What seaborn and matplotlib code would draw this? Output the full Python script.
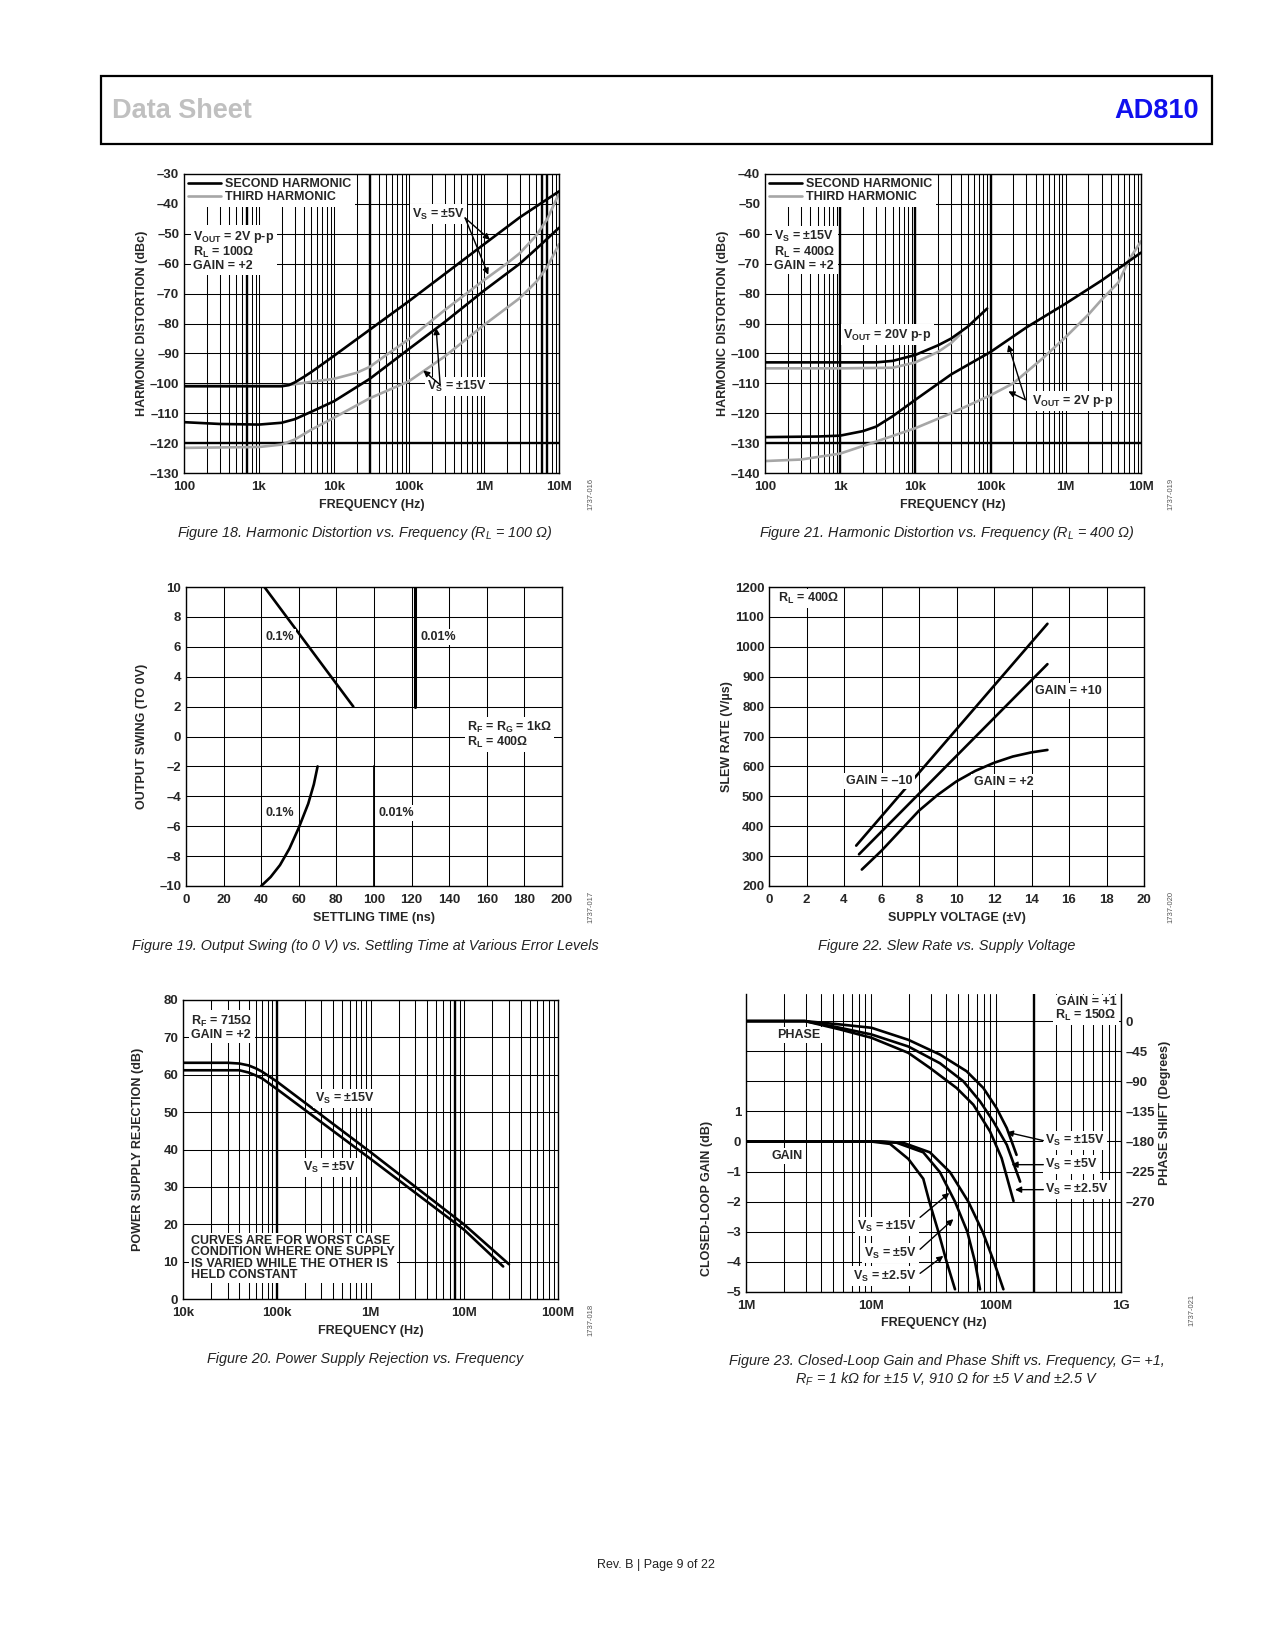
import numpy as np
import matplotlib
matplotlib.use("Agg")
import matplotlib.pyplot as plt
from matplotlib.lines import Line2D
from matplotlib.patches import Rectangle
from matplotlib.ticker import LogLocator, NullFormatter
import seaborn as sns

# ---------------- values ----------------

# Figure 18: harmonic distortion vs frequency, RL = 100 ohm (dBc)
f18_h2_5v = [100, 1e3, 2e3, 2.5e3, 3e3, 4e3, 5e3, 7e3, 1e4, 1e5, 1e6, 3e6, 1e7]
d18_h2_5v = [-101, -101, -101, -100.6, -99.7, -97.8, -96.2, -93.6, -90.8, -72.5, -53.5, -44.5, -35.8]
f18_h3_5v = [100, 2e3, 3e3, 5e3, 1e4, 2e4, 3e4, 5e4, 1e5, 3e5, 1e6, 2e6, 3e6, 5e6, 7e6, 1e7]
d18_h3_5v = [-100.8, -100.8, -100.3, -99.5, -98.5, -96.5, -94.5, -90.5, -85.2, -75.5, -65.5, -60, -56.5, -50.5, -45, -36.5]
f18_h2_15v = [100, 300, 1e3, 2e3, 3e3, 5e3, 1e4, 3e4, 1e5, 3e5, 1e6, 3e6, 5e6, 1e7]
d18_h2_15v = [-113, -113.6, -113.8, -113.2, -112, -109.5, -106, -98.5, -88.5, -79.5, -69, -60, -55, -48]
f18_h3_15v = [100, 1e3, 2e3, 3e3, 5e3, 1e4, 3e4, 1e5, 3e5, 1e6, 3e6, 5e6, 7e6, 1e7]
d18_h3_15v = [-121.6, -121.3, -120.5, -118.8, -115.5, -111.5, -105, -99.3, -91, -80.5, -71.5, -66, -61, -53.5]

# Figure 21: harmonic distortion vs frequency, RL = 400 ohm (dBc)
f21_h2_20v = [100, 1e3, 3e3, 5e3, 1e4, 2e4, 3e4, 5e4, 9e4]
d21_h2_20v = [-103, -103, -103, -102.5, -100.5, -97.3, -95, -91, -85]
f21_h3_20v = [100, 1e3, 5e3, 1e4, 2e4, 3e4, 4e4]
d21_h3_20v = [-105, -105, -104.8, -103, -99.5, -96.5, -93.5]
f21_h2_2v = [100, 500, 1e3, 2e3, 3e3, 5e3, 1e4, 3e4, 1e5, 3e5, 1e6, 3e6, 1e7]
d21_h2_2v = [-128, -127.8, -127.5, -126, -124.5, -121, -115.5, -107, -99.5, -91.3, -83.3, -75.6, -66.3]
f21_h3_2v = [100, 300, 1e3, 3e3, 1e4, 3e4, 1e5, 2e5, 5e5, 1e6, 2e6, 3e6, 5e6, 7e6, 1e7]
d21_h3_2v = [-136, -135.5, -133.5, -129.5, -125, -120, -114, -110, -101.5, -94.5, -87, -82, -76.3, -68.5, -62.5]

# Figure 19: output swing vs settling time
t19_01_top = [41.7, 89]
v19_01_top = [10, 2]
t19_01_bot = [40, 45, 50, 55, 60, 65, 68, 70]
v19_01_bot = [-10, -9.4, -8.6, -7.5, -6.1, -4.5, -3.2, -2]
t19_001_top = [122, 122]
v19_001_top = [2, 10]
t19_001_bot = [100, 100]
v19_001_bot = [-2, -10]

# Figure 22: slew rate vs supply voltage (V/us)
vs22_a = [4.65, 14.85]
sr22_a = [335, 1077]
vs22_b = [4.8, 14.85]
sr22_b = [306, 942]
vs22_c = [4.95, 6, 7, 8, 9, 10, 11, 12, 13, 14, 14.85]
sr22_c = [255, 318, 385, 452, 505, 550, 585, 612, 633, 647, 655]

# Figure 20: power supply rejection vs frequency (dB)
f20_15v = [1e4, 3e4, 4e4, 5e4, 6e4, 7e4, 1e5, 1e6, 1e7, 3e7]
p20_15v = [63.2, 63.2, 63, 62.5, 61.7, 60.8, 58.2, 39.3, 19.9, 9.3]
f20_5v = [1e4, 4e4, 5e4, 6e4, 7e4, 1e5, 1e6, 1e7, 2.6e7]
p20_5v = [61.2, 61.2, 60.6, 59.8, 59, 56.2, 37.5, 18.5, 8.7]

# Figure 23: closed-loop gain (dB) and phase (deg) vs frequency
f23_g15 = [1e6, 12e6, 18e6, 29.6e6, 42.9e6, 60.1e6, 78.2e6, 96.4e6, 114.6e6]
g23_g15 = [0, 0, -0.04, -0.36, -1.02, -2, -3, -4, -4.91]
f23_g5 = [1e6, 11e6, 16e6, 26.2e6, 35.6e6, 47e6, 59e6, 67.9e6, 74.5e6]
g23_g5 = [0, 0, -0.04, -0.36, -1.02, -2, -3, -4, -4.91]
f23_g25 = [1e6, 10e6, 14.2e6, 19.9e6, 26.2e6, 29.3e6, 34.6e6, 40.3e6, 47e6]
g23_g25 = [0, 0, -0.08, -0.58, -1.24, -2, -3, -4, -4.91]
f23_p15 = [1e6, 2.96e6, 5.65e6, 10.1e6, 19.9e6, 35.6e6, 58.2e6, 79.2e6, 101e6, 122e6, 146e6]
p23_p15 = [0, 0, -5, -10, -28, -50, -75, -100, -130, -160, -200]
f23_p5 = [1e6, 2.96e6, 5.65e6, 10.1e6, 19.9e6, 35.6e6, 54.8e6, 74.5e6, 95.2e6, 122e6, 156e6]
p23_p5 = [0, 0, -10, -20, -38, -63, -90, -120, -150, -185, -240]
f23_p25 = [1e6, 2.96e6, 5.65e6, 10.1e6, 19.9e6, 29.6e6, 48.4e6, 65.9e6, 89.6e6, 111e6, 138e6]
p23_p25 = [0, 0, -12.5, -25, -47.5, -70, -100, -125, -165, -205, -269]

# ---------------- drawing ----------------

sns.set_theme(style="white")
plt.rcParams["font.family"] = ["Liberation Sans", "DejaVu Sans"]
plt.rcParams["mathtext.default"] = "regular"

W, H = 1275, 1650
GRAY = "#a6a6a6"
LW = 1.9
TICK = 9.5
NARROW = ["Liberation Sans Narrow", "Liberation Sans", "DejaVu Sans"]
BOX = dict(facecolor="white", edgecolor="none", pad=1.5)

fig = plt.figure(figsize=(W / 100, H / 100), dpi=100)


def page_axes(x0, y0, x1, y1):
    return fig.add_axes([x0 / W, 1 - y1 / H, (x1 - x0) / W, (y1 - y0) / H])


def dash(v):
    return str(v).replace("-", "\u2013")


def curve(ax, x, y, color="black", lw=LW, z=3):
    sns.lineplot(x=x, y=y, ax=ax, color=color, linewidth=lw,
                 estimator=None, sort=False, legend=False, zorder=z)


def style(ax, xlim, ylim, xt, xl, yt, yl, xlabel, ylabel, logx=False):
    if logx:
        ax.set_xscale("log")
        ax.xaxis.set_minor_locator(LogLocator(base=10, subs=np.arange(2, 10), numticks=60))
        ax.xaxis.set_minor_formatter(NullFormatter())
    ax.set_xlim(*xlim)
    ax.set_ylim(*ylim)
    ax.set_xticks(xt, labels=xl, fontsize=TICK, fontweight="bold")
    ax.set_yticks(yt, labels=yl, fontsize=TICK, fontweight="bold")
    ax.grid(True, which="both", color="black", linewidth=0.75)
    ax.set_axisbelow(True)
    ax.tick_params(which="both", length=0)
    ax.tick_params(axis="x", pad=6)
    ax.tick_params(axis="y", pad=3.5)
    for s in ax.spines.values():
        s.set_color("black")
        s.set_linewidth(1.0)
        s.set_zorder(6)
    ax.set_xlabel(xlabel, fontsize=9, fontweight="bold")
    ax.set_ylabel(ylabel, fontsize=9, fontweight="bold")
    ax.xaxis.set_label_coords(0.5, -0.087)
    ax.yaxis.set_label_coords(-0.097, 0.5)


def note(ax, x, y, s, ha="left", va="center", box=True, **kw):
    ax.text(x, y, s, ha=ha, va=va, fontsize=9, fontweight="bold",
            bbox=BOX if box else None, zorder=4, **kw)


def arrow(ax, tail, head):
    ax.annotate("", xy=head, xytext=tail, zorder=7,
                arrowprops=dict(arrowstyle="-|>", color="black", lw=1.0,
                                mutation_scale=9, shrinkA=0, shrinkB=0))


def thick(ax, xs=(), ys=()):
    for x in xs:
        ax.axvline(x, color="black", linewidth=1.7, zorder=0.6)
    for y in ys:
        ax.axhline(y, color="black", linewidth=1.7, zorder=0.6)


freq_ticks = [1e2, 1e3, 1e4, 1e5, 1e6, 1e7]
freq_labels = ["100", "1k", "10k", "100k", "1M", "10M"]
legend_handles = [Line2D([], [], color="black", lw=LW, label="SECOND HARMONIC"),
                  Line2D([], [], color=GRAY, lw=LW, label="THIRD HARMONIC")]


def hd_legend(ax):
    leg = ax.legend(handles=legend_handles, loc="upper left", bbox_to_anchor=(0.0, 1.0),
                    borderaxespad=0.0, borderpad=0.35, handlelength=2.6, handletextpad=0.3,
                    labelspacing=0.05, frameon=True, fancybox=False,
                    prop=dict(size=9, weight="bold"))
    leg.get_frame().set_edgecolor("none")
    leg.get_frame().set_alpha(1)
    leg.set_zorder(5)


# ---- Figure 18 ----
ax = page_axes(184, 174, 559, 473)
style(ax, (100, 1e7), (-130, -30), freq_ticks, freq_labels,
      list(range(-130, -29, 10)), [dash(v) for v in range(-130, -29, 10)],
      "FREQUENCY (Hz)", "HARMONIC DISTORTION (dBc)", logx=True)
thick(ax, xs=[700, 3e4, 6e6, 7e6], ys=[-120])
curve(ax, f18_h3_5v, d18_h3_5v, GRAY)
curve(ax, f18_h3_15v, d18_h3_15v, GRAY)
curve(ax, f18_h2_5v, d18_h2_5v)
curve(ax, f18_h2_15v, d18_h2_15v)
hd_legend(ax)
note(ax, 0.025, 0.815, "V$_{OUT}$ = 2V p-p\nR$_L$ = 100Ω\nGAIN = +2",
     va="top", transform=ax.transAxes, linespacing=1.0)
note(ax, 2.45e5, -43.4, "V$_S$ = ±5V", ha="center")
arrow(ax, (5.6e5, -44.7), (1.2e6, -52))
arrow(ax, (5.6e5, -44.7), (1.14e6, -63.7))
note(ax, 4.4e5, -101, "V$_S$ = ±15V", ha="center")
arrow(ax, (2.6e5, -100.5), (2.3e5, -81.5))
arrow(ax, (2.6e5, -100.5), (1.55e5, -95.7))

# ---- Figure 21 ----
ax = page_axes(765, 174, 1141, 473)
style(ax, (100, 1e7), (-140, -40), freq_ticks, freq_labels,
      list(range(-140, -39, 10)), [dash(v) for v in range(-140, -39, 10)],
      "FREQUENCY (Hz)", "HARMONIC DISTORTION (dBc)", logx=True)
ax.yaxis.set_label_coords(-0.095, 0.5)
thick(ax, xs=[1e3, 1e4, 1e5], ys=[-130])
curve(ax, f21_h3_20v, d21_h3_20v, GRAY)
curve(ax, f21_h3_2v, d21_h3_2v, GRAY)
curve(ax, f21_h2_20v, d21_h2_20v)
curve(ax, f21_h2_2v, d21_h2_2v)
hd_legend(ax)
note(ax, 0.025, 0.815, "V$_S$ = ±15V\nR$_L$ = 400Ω\nGAIN = +2",
     va="top", transform=ax.transAxes, linespacing=1.0)
note(ax, 1.1e3, -93.7, "V$_{OUT}$ = 20V p-p")
note(ax, 3.6e5, -116, "V$_{OUT}$ = 2V p-p")
arrow(ax, (2.9e5, -115.5), (1.72e5, -97.1))
arrow(ax, (2.9e5, -115.5), (1.72e5, -112.7))

# ---- Figure 19 ----
ax = page_axes(186, 587, 562, 886)
style(ax, (0, 200), (-10, 10), list(range(0, 201, 20)), [str(v) for v in range(0, 201, 20)],
      list(range(-10, 11, 2)), [dash(v) for v in range(-10, 11, 2)],
      "SETTLING TIME (ns)", "OUTPUT SWING (TO 0V)")
ax.yaxis.set_label_coords(-0.102, 0.5)
curve(ax, t19_01_top, v19_01_top)
curve(ax, t19_01_bot, v19_01_bot)
curve(ax, t19_001_top, v19_001_top, lw=2.2)
curve(ax, t19_001_bot, v19_001_bot, lw=1.3)
note(ax, 50, 6.66, "0.1%", ha="center")
note(ax, 134, 6.66, "0.01%", ha="center")
note(ax, 50, -5.14, "0.1%", ha="center")
note(ax, 112, -5.14, "0.01%", ha="center")
note(ax, 149.4, 0.13, "R$_F$ = R$_G$ = 1kΩ\nR$_L$ = 400Ω", linespacing=1.0)

# ---- Figure 22 ----
ax = page_axes(769, 587, 1144, 886)
style(ax, (0, 20), (200, 1200), list(range(0, 21, 2)), [str(v) for v in range(0, 21, 2)],
      list(range(200, 1201, 100)), [str(v) for v in range(200, 1201, 100)],
      "SUPPLY VOLTAGE (±V)", "SLEW RATE (V/µs)")
curve(ax, vs22_a, sr22_a)
curve(ax, vs22_b, sr22_b)
curve(ax, vs22_c, sr22_c)
note(ax, 0.5, 1161, "R$_L$ = 400Ω")
note(ax, 5.9, 552, "GAIN = \u201310", ha="center")
note(ax, 15.95, 853, "GAIN = +10", ha="center")
note(ax, 12.5, 549, "GAIN = +2", ha="center")

# ---- Figure 20 ----
ax = page_axes(183, 1000, 558, 1299)
style(ax, (1e4, 1e8), (0, 80), [1e4, 1e5, 1e6, 1e7, 1e8], ["10k", "100k", "1M", "10M", "100M"],
      list(range(0, 81, 10)), [str(v) for v in range(0, 81, 10)],
      "FREQUENCY (Hz)", "POWER SUPPLY REJECTION (dB)", logx=True)
ax.yaxis.set_label_coords(-0.103, 0.5)
thick(ax, xs=[1e5, 8e6])
curve(ax, f20_15v, p20_15v)
curve(ax, f20_5v, p20_5v)
note(ax, 0.022, 0.955, "R$_F$ = 715Ω\nGAIN = +2", va="top", transform=ax.transAxes, linespacing=1.0)
note(ax, 2.54e5, 53.7, "V$_S$ = ±15V")
note(ax, 1.9e5, 35.2, "V$_S$ = ±5V")
note(ax, 0.022, 0.215, "CURVES ARE FOR WORST CASE\nCONDITION WHERE ONE SUPPLY\n"
     "IS VARIED WHILE THE OTHER IS\nHELD CONSTANT", va="top", transform=ax.transAxes,
     linespacing=0.95)

# ---- Figure 23 ----
ax = page_axes(746, 994, 1121, 1292)
style(ax, (1e6, 1e9), (-5, 4.9), [1e6, 1e7, 1e8, 1e9], ["1M", "10M", "100M", "1G"],
      list(range(-5, 5)), [dash(v) if v <= 1 else "" for v in range(-5, 5)],
      "FREQUENCY (Hz)", "CLOSED-LOOP GAIN (dB)", logx=True)
ax.spines["top"].set_visible(False)
ax.xaxis.set_label_coords(0.5, -0.084)
ax.yaxis.set_label_coords(-0.089, 0.315)
thick(ax, xs=[2e8])
curve(ax, f23_g15, g23_g15)
curve(ax, f23_g5, g23_g5)
curve(ax, f23_g25, g23_g25)
note(ax, 0.9885, 0.947, "GAIN = +1\nR$_L$ = 150Ω", ha="right", transform=ax.transAxes, linespacing=1.0)
note(ax, 1.78e6, 3.53, "PHASE")
note(ax, 1.6e6, -0.49, "GAIN")
note(ax, 2.47e8, 0.03, "V$_S$ = ±15V")
note(ax, 2.47e8, -0.77, "V$_S$ = ±5V")
note(ax, 2.47e8, -1.6, "V$_S$ = ±2.5V")
arrow(ax, (2.39e8, 0.03), (1.22e8, 0.31))
arrow(ax, (2.39e8, -0.77), (1.33e8, -0.77))
arrow(ax, (2.39e8, -1.6), (1.42e8, -1.6))
note(ax, 2.32e7, -2.82, "V$_S$ = ±15V", ha="right")
note(ax, 2.32e7, -3.71, "V$_S$ = ±5V", ha="right")
note(ax, 2.32e7, -4.47, "V$_S$ = ±2.5V", ha="right")
arrow(ax, (2.47e7, -2.52), (4.23e7, -1.71))
arrow(ax, (2.47e7, -3.58), (4.56e7, -2.58))
arrow(ax, (2.47e7, -4.38), (3.79e7, -3.8))

ax2 = ax.twinx()
ax2.set_ylim(-405, 40.5)
ax2.set_yticks(list(range(-270, 1, 45)), labels=[dash(v) for v in range(-270, 1, 45)],
               fontsize=TICK, fontweight="bold")
ax2.tick_params(length=0, pad=3)
ax2.grid(False)
for s in ax2.spines.values():
    s.set_visible(False)
curve(ax2, f23_p15, p23_p15)
curve(ax2, f23_p5, p23_p5)
curve(ax2, f23_p25, p23_p25)
ax2.set_ylabel("PHASE SHIFT (Degrees)", fontsize=9, fontweight="bold")
ax2.yaxis.set_label_coords(1.101, 0.60)

# ---------------- page furniture ----------------


def page_text(x, y, s, **kw):
    fig.text(x / W, 1 - y / H, s, **kw)


fig.add_artist(Rectangle((101 / W, 1 - 144 / H), (1212 - 101) / W, (144 - 75.7) / H,
                         transform=fig.transFigure, fill=False, edgecolor="black", linewidth=1.6))
page_text(112, 111, "Data Sheet", family=NARROW, fontsize=19.5, fontweight="bold",
          color="#c0c0c0", ha="left", va="center")
page_text(1199, 111, "AD810", family=NARROW, fontsize=19.5, fontweight="bold",
          color="#1010ee", ha="right", va="center")

cap = dict(family=NARROW, fontsize=10.4, style="italic", ha="center", va="center", color="#222222")
page_text(365, 533, "Figure 18. Harmonic Distortion vs. Frequency (R$_L$ = 100 Ω)", **cap)
page_text(947, 533, "Figure 21. Harmonic Distortion vs. Frequency (R$_L$ = 400 Ω)", **cap)
page_text(365, 946, "Figure 19. Output Swing (to 0 V) vs. Settling Time at Various Error Levels", **cap)
page_text(947, 946, "Figure 22. Slew Rate vs. Supply Voltage", **cap)
page_text(365, 1359, "Figure 20. Power Supply Rejection vs. Frequency", **cap)
page_text(947, 1361, "Figure 23. Closed-Loop Gain and Phase Shift vs. Frequency, G= +1,", **cap)
page_text(947, 1379, "R$_F$ = 1 kΩ for ±15 V, 910 Ω for ±5 V and ±2.5 V", **cap)

ids = dict(fontsize=5.5, color="#555555", rotation=90, ha="center", va="center")
page_text(591, 494, "1737-016", **ids)
page_text(1171, 494, "1737-019", **ids)
page_text(591, 907, "1737-017", **ids)
page_text(1171, 907, "1737-020", **ids)
page_text(591, 1320, "1737-018", **ids)
page_text(1192, 1310, "1737-021", **ids)

page_text(656, 1565, "Rev. B | Page 9 of 22", fontsize=9, ha="center", va="center", color="#222222")

fig.savefig("out.png", dpi=100, facecolor="white")
